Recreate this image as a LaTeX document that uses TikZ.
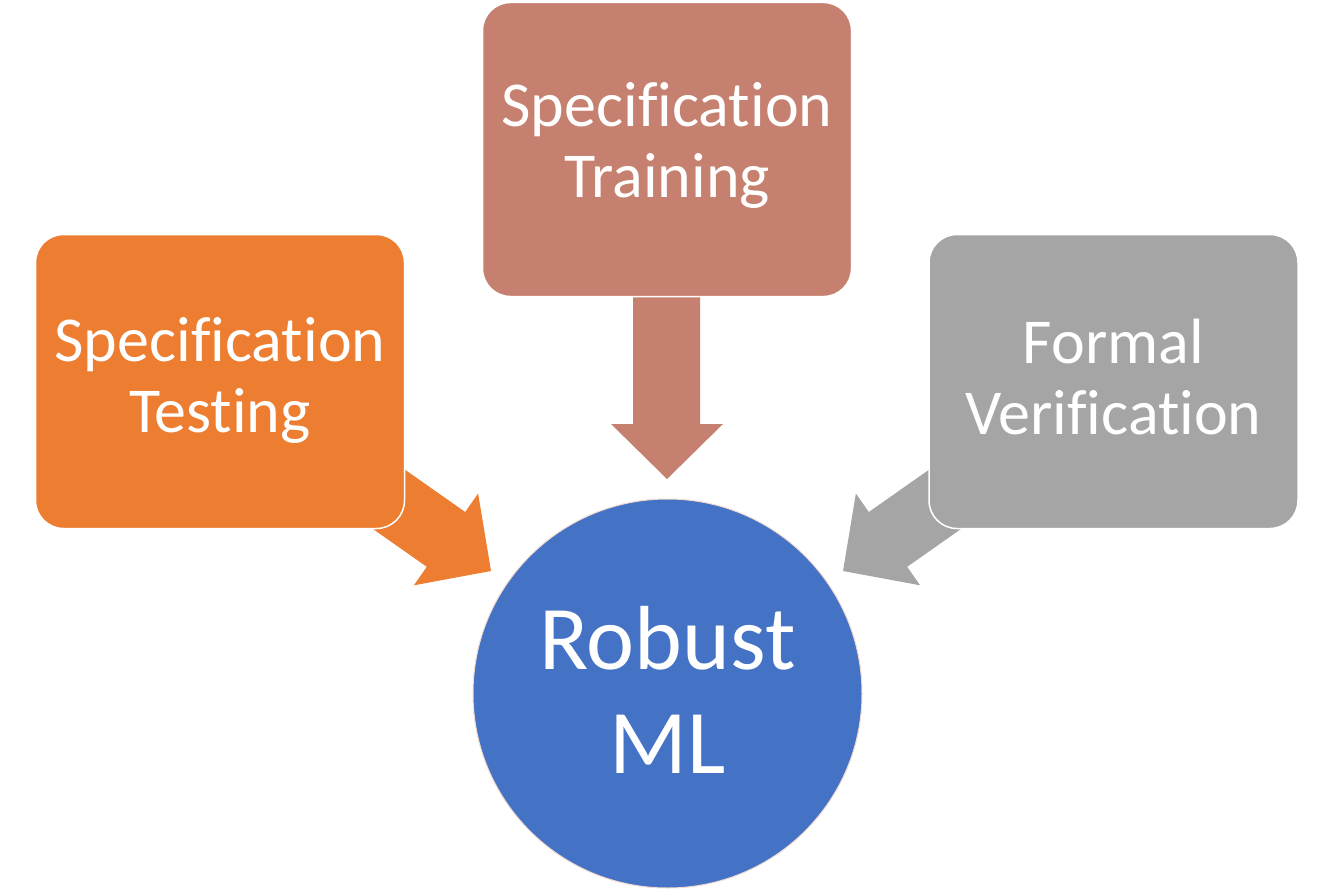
\documentclass[tikz,border=0pt]{standalone}
\usepackage{fontspec}
\setmainfont{Carlito}[Ligatures=NoCommon]
\definecolor{cOrange}{HTML}{ED7D31}
\definecolor{cBrown}{HTML}{C5806F}
\definecolor{cGray}{HTML}{A5A5A5}
\definecolor{cBlue}{HTML}{4472C4}
\definecolor{cRim}{HTML}{F2D9CF}
\begin{document}
\begin{tikzpicture}[x=1pt,y=-1pt,
  box/.style={draw=white,line width=1.5pt,rounded corners=28pt,
    minimum width=369pt,minimum height=294pt},
  boxtext/.style={text=white,align=center,inner sep=0pt,font=\fontsize{64}{71}\selectfont},
  hub/.style={circle,draw=cRim,line width=1pt,fill=cBlue,inner sep=0pt,minimum size=389pt},
  hubtext/.style={text=white,align=center,inner sep=0pt,font=\fontsize{91}{104}\selectfont},
  blockarrow/.style={draw=none}
]
\useasboundingbox (0,0) rectangle (1334,891);
% block arrows (drawn first, tails hidden under the boxes)
\fill[cBrown,blockarrow] (633,280) -- (700,280) -- (700,424) -- (723,424) -- (667,479)
  -- (611,424) -- (633,424) -- cycle;
\fill[cOrange,blockarrow] (342.2,425.6) -- (465.2,512.0) -- (478.1,493.5) -- (491,571)
  -- (413.9,585.3) -- (426.8,566.8) -- (303.8,480.4) -- cycle;
\fill[cGray,blockarrow] (991.8,425.6) -- (868.8,512.0) -- (855.9,493.5) -- (843,571)
  -- (920.1,585.3) -- (907.2,566.8) -- (1030.2,480.4) -- cycle;
% boxes
\node[box,fill=cOrange] (test) at (220,381.5) {};
\node[boxtext] (testlbl) at ([yshift=1pt]test.center) {Specification\\Testing};
\node[box,fill=cBrown] (train) at (667,149.5) {};
\node[boxtext] (trainlbl) at ([yshift=4pt]train.center) {Specification\\Training};
\node[box,fill=cGray] (verif) at (1113.5,381.5) {};
\node[boxtext] (veriflbl) at ([yshift=4pt]verif.center) {Formal\\Verification};
% hub
\node[hub] (robust) at (667.5,693.5) {};
\node[hubtext] (robustlbl) at ([yshift=3.5pt]robust.center) {Robust\\ML};
\end{tikzpicture}
\end{document}
